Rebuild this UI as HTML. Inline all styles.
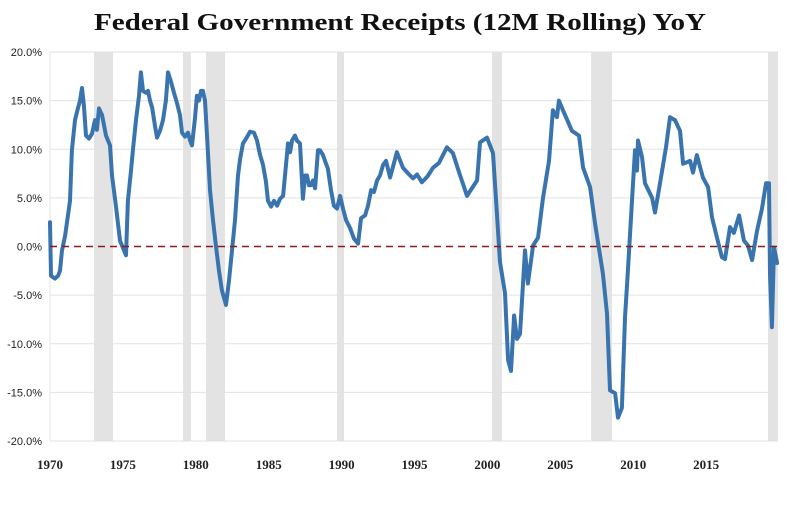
<!DOCTYPE html>
<html><head><meta charset="utf-8"><style>
html,body{margin:0;padding:0;background:#fff;}
svg{display:block;}
</style></head><body>
<svg id="chart" width="800" height="506" viewBox="0 0 800 506" xmlns="http://www.w3.org/2000/svg">
<text x="400" y="30" text-anchor="middle" font-family="Liberation Serif, serif" font-weight="bold" font-size="24" textLength="612" lengthAdjust="spacingAndGlyphs" fill="#111">Federal Government Receipts (12M Rolling) YoY</text>
<g id="rec"></g>
<g id="grid"></g>
<g id="yax"></g>
<g id="xax"></g>
<g id="series"></g>
</svg>
<script>
const years=[1970.89,1970.96,1971.23,1971.44,1971.57,1971.71,1971.92,1972.05,1972.26,1972.39,1972.60,1972.80,1972.94,1973.08,1973.21,1973.35,1973.56,1973.76,1973.97,1974.10,1974.24,1974.45,1974.72,1974.99,1975.13,1975.40,1975.68,1975.95,1976.09,1976.22,1976.43,1976.57,1976.77,1976.98,1977.11,1977.25,1977.46,1977.59,1977.73,1977.87,1978.07,1978.21,1978.41,1978.62,1978.82,1978.96,1979.17,1979.37,1979.58,1979.78,1979.92,1980.12,1980.33,1980.47,1980.60,1980.81,1980.94,1981.08,1981.22,1981.35,1981.49,1981.63,1981.83,1982.04,1982.24,1982.45,1982.65,1982.93,1983.13,1983.34,1983.54,1983.75,1983.89,1984.09,1984.30,1984.57,1984.84,1985.05,1985.26,1985.46,1985.66,1985.80,1986.01,1986.21,1986.42,1986.62,1986.83,1987.17,1987.31,1987.44,1987.65,1987.78,1987.99,1988.19,1988.33,1988.47,1988.60,1988.74,1988.88,1989.02,1989.22,1989.36,1989.56,1989.70,1989.90,1990.11,1990.31,1990.52,1990.73,1990.93,1991.14,1991.41,1991.68,1991.96,1992.16,1992.44,1992.64,1992.85,1993.05,1993.26,1993.46,1993.67,1993.87,1994.15,1994.62,1995.03,1995.40,1995.72,1996.00,1996.33,1996.70,1997.09,1997.50,1998.04,1998.45,1998.90,1999.41,2000.10,2000.30,2000.78,2001.19,2001.46,2001.67,2002.01,2002.22,2002.42,2002.63,2002.83,2003.04,2003.38,2003.58,2003.93,2004.27,2004.61,2005.02,2005.29,2005.57,2005.70,2005.98,2006.59,2007.07,2007.35,2007.83,2008.17,2008.71,2008.99,2009.19,2009.54,2009.74,2010.01,2010.22,2010.42,2010.70,2010.90,2011.04,2011.11,2011.38,2011.59,2012.07,2012.27,2012.61,2013.02,2013.30,2013.64,2013.98,2014.19,2014.67,2014.87,2015.14,2015.55,2015.90,2016.17,2016.51,2016.85,2017.06,2017.40,2017.67,2018.02,2018.36,2018.63,2018.91,2019.25,2019.59,2019.86,2020.07,2020.14,2020.27,2020.41,2020.62];
const values=[2.5,-3,-3.3,-3,-2.5,-0.4,1.1,2.5,4.7,9.9,13,14.2,15,16.3,14.5,11.4,11.1,11.6,13,12,14.2,13.5,11.4,10.4,7.3,4.2,0.6,-0.4,-0.9,4.7,7.8,10.1,13,15.5,17.9,16,15.8,16,15,14.3,12.4,11.2,11.9,13,15,17.9,16.9,15.8,14.7,13.5,11.7,11.3,11.7,10.9,10.4,13.2,15.5,15,16,16,15,11.4,5.8,2.7,0.1,-2.5,-4.5,-6,-3.5,-0.4,2.7,7.3,9,10.6,11.1,11.8,11.7,10.9,9.4,8.4,6.7,4.7,4.1,4.7,4.2,4.9,5.2,10.6,9.7,10.9,11.4,10.9,10.6,4.9,7.3,7.3,6.3,6.3,6.8,6.0,9.9,9.9,9.4,8.8,8.0,5.8,4.2,3.9,5.2,3.9,2.7,1.9,0.8,0.3,2.9,3.2,4.2,5.8,5.6,6.8,7.3,8.4,8.8,7.1,9.7,8.1,7.5,7,7.4,6.6,7.2,8.1,8.6,10.2,9.6,7.5,5.2,6.8,10.7,11.2,9.6,3.4,-1.6,-4.8,-11.7,-12.8,-7.1,-9.5,-9.0,-0.4,-3.8,0.1,0.9,5,8.8,14,13.3,15,14,11.9,11.4,8.1,6.1,2.4,-2.8,-6.9,-14.8,-15.1,-17.6,-16.6,-7.3,-2.5,4.7,9.9,7.8,10.9,9.2,6.5,5,3.5,6.5,10.2,13.3,13,11.9,8.5,8.8,7.6,9.4,7.1,6.1,3,0.9,-1.1,-1.3,2,1.4,3.2,0.6,0.1,-1.4,1.6,3.9,6.5,6.5,-2.8,-8.3,-0.1,-1.7];
const recStart=[1973.90,1979.99,1981.56,1990.52,2001.12,2007.90,2020.00];
const recEnd=[1975.20,1980.53,1982.86,1991.00,2001.80,2009.33,2020.68];
const yTicks=[20,15,10,5,0,-5,-10,-15,-20];
const xTickYears=[1970,1975,1980,1985,1990,1995,2000,2005,2010,2015];

const NS='http://www.w3.org/2000/svg';
const PL=50,PR=778,PT=52,PB=441;
function xs(y){return 37+(y-1970)*14.62;}
function xl(y){return 50+(y-1970)*14.58;}
function ys(v){return 246.5-v*9.725;}
function mk(tag,attrs,parent){const e=document.createElementNS(NS,tag);for(const k in attrs)e.setAttribute(k,attrs[k]);parent.appendChild(e);return e;}
const rec=document.getElementById('rec'),grid=document.getElementById('grid'),yax=document.getElementById('yax'),xax=document.getElementById('xax'),ser=document.getElementById('series');
recStart.forEach((s,i)=>{
  const r=mk('rect',{x:xs(s),y:PT,width:Math.max(0,Math.min(PR,xs(recEnd[i]))-xs(s)),height:PB-PT,fill:'#e3e3e3'},rec);
  
  
});
yTicks.forEach(v=>{
  if(v!==0){const l=mk('line',{x1:PL,x2:PR,y1:ys(v),y2:ys(v),stroke:'#e2e2e2','stroke-width':1},grid);
  
  }
  const t=mk('text',{x:42,y:ys(v)+4,'text-anchor':'end','font-family':'Liberation Sans, sans-serif','font-size':11,fill:'#222'},yax);
  t.textContent=v.toFixed(1)+'%';
  
  
});
mk('line',{x1:PL,x2:PL,y1:PT,y2:PB,stroke:'#e6e6e6','stroke-width':1},grid);
xTickYears.forEach(y=>{
  const t=mk('text',{x:xl(y),y:469,'text-anchor':'middle','font-family':'Liberation Serif, serif','font-weight':'bold','font-size':13,fill:'#222'},xax);
  t.textContent=String(y);
  
  
});
const pts=years.map((y,i)=>xs(y).toFixed(1)+','+ys(values[i]).toFixed(1)).join(' ');
const line=mk('polyline',{points:pts,fill:'none',stroke:'#3a74ae','stroke-width':4,'stroke-linejoin':'round','stroke-linecap':'round'},ser);


const zl=mk('line',{x1:PL,x2:PR,y1:ys(0),y2:ys(0),stroke:'#8e1a1a','stroke-width':1.6,'stroke-dasharray':'7,5'},ser);


</script>
</body></html>
